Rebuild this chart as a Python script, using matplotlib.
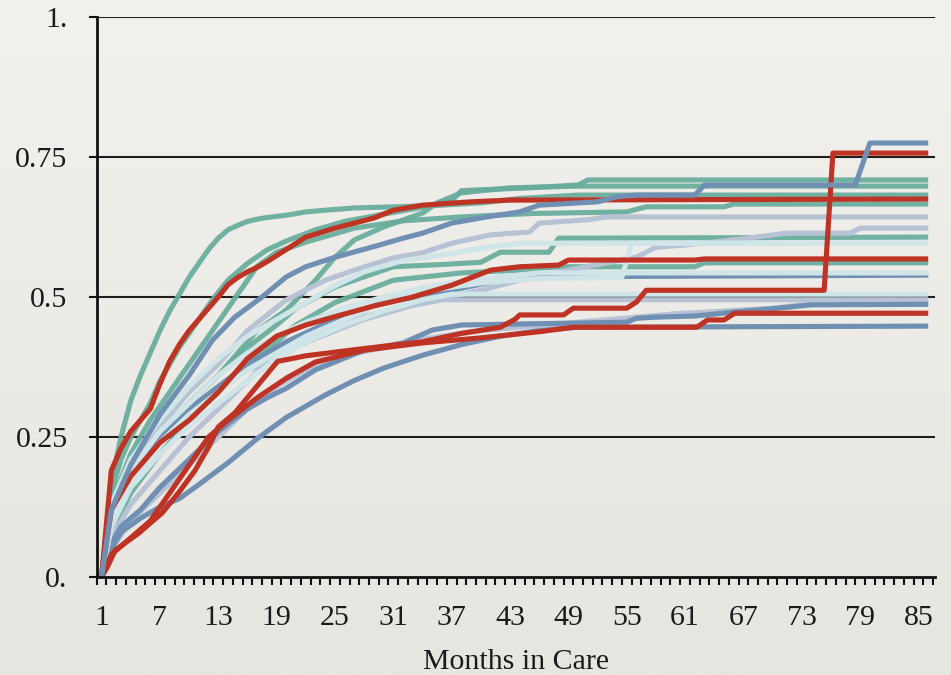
#!/usr/bin/env python3
"""Cumulative share leaving care by month, one line per cohort/group."""

import matplotlib
matplotlib.use('Agg')
import matplotlib.pyplot as plt
import numpy as np

TEAL = '#68ad9c'
RED = '#bf3324'
BLUE = '#7090b3'
LIGHT = '#b7c2d5'
PALE = '#d0e5e7'

# knots (month, cumulative share)
teal_1_m = [1, 2, 3, 4, 5, 6, 7, 8, 9, 10, 11, 12, 13, 14, 15, 16, 17, 18, 20, 22, 24, 27, 31, 36, 40, 44, 50, 86]
teal_1_v = [0, 0.17, 0.25, 0.315, 0.36, 0.40, 0.44, 0.475, 0.505, 0.535, 0.56, 0.585, 0.605, 0.62, 0.628,
            0.635, 0.639, 0.642, 0.646, 0.652, 0.655, 0.659, 0.661, 0.664, 0.668, 0.676, 0.682, 0.682]

teal_2_m = [1, 2, 3, 4, 5, 6, 7, 9, 11, 12.4, 14, 16, 18, 20, 23, 26, 30, 34, 37, 38, 45, 50, 51, 86]
teal_2_v = [0, 0.15, 0.21, 0.25, 0.28, 0.31, 0.35, 0.41, 0.46, 0.495, 0.53, 0.56, 0.584, 0.6, 0.62, 0.635,
            0.648, 0.66, 0.672, 0.69, 0.695, 0.7, 0.709, 0.709]

teal_3_m = [1, 2, 4, 7, 10, 13, 15, 17, 20, 23, 25, 27, 30, 34, 35.5, 38, 43, 50, 86]
teal_3_v = [0, 0.1, 0.17, 0.25, 0.31, 0.36, 0.4, 0.44, 0.477, 0.53, 0.571, 0.602, 0.625, 0.65, 0.668,
            0.686, 0.695, 0.698, 0.698]

teal_4_m = [1, 2, 4, 6, 8, 10, 12, 14, 16, 17, 19, 22, 27, 32, 38, 45, 55, 57, 65, 66, 86]
teal_4_v = [0, 0.13, 0.22, 0.28, 0.33, 0.38, 0.43, 0.48, 0.53, 0.555, 0.58, 0.598, 0.623, 0.636, 0.643,
            0.649, 0.652, 0.661, 0.661, 0.666, 0.666]

teal_5_m = [1, 2, 4, 7, 10, 13, 16, 19, 21, 25, 31, 36, 40, 42, 47, 48, 86]
teal_5_v = [0, 0.1, 0.18, 0.26, 0.31, 0.36, 0.41, 0.45, 0.48, 0.518, 0.554, 0.558, 0.562, 0.58, 0.58,
            0.605, 0.607]

teal_6_m = [1, 2, 4, 7, 10, 13, 16, 19, 21, 25, 31, 38, 44, 48, 62, 63, 86]
teal_6_v = [0, 0.08, 0.15, 0.22, 0.28, 0.33, 0.38, 0.42, 0.45, 0.49, 0.53, 0.543, 0.548, 0.554, 0.554,
            0.561, 0.561]

light_1_m = [1, 3, 5, 7, 10, 13, 16, 20, 24, 27, 31, 34, 37, 41, 45, 46, 51, 53, 86]
light_1_v = [0, 0.15, 0.22, 0.27, 0.33, 0.38, 0.44, 0.495, 0.53, 0.548, 0.57, 0.579, 0.596, 0.611, 0.616,
             0.632, 0.638, 0.643, 0.643]

light_2_m = [1, 2, 4, 7, 10, 13, 16, 19, 21.4, 28, 35, 40, 44, 49, 56, 58, 61, 66, 71.5, 78, 79, 86]
light_2_v = [0, 0.07, 0.13, 0.19, 0.25, 0.3, 0.35, 0.4, 0.425, 0.465, 0.495, 0.512, 0.53, 0.548, 0.571,
             0.589, 0.593, 0.602, 0.614, 0.614, 0.623, 0.623]

light_3_m = [1, 2, 4, 7, 10, 13, 16, 19, 21.4, 28, 33, 36, 86]
light_3_v = [0, 0.1, 0.18, 0.25, 0.3, 0.34, 0.37, 0.39, 0.415, 0.46, 0.485, 0.495, 0.495]

light_4_m = [1, 2, 4, 7, 10, 13, 16, 19, 22, 26, 30, 34, 40, 50, 60, 70, 74, 86]
light_4_v = [0, 0.05, 0.1, 0.15, 0.2, 0.25, 0.3, 0.34, 0.37, 0.395, 0.41, 0.425, 0.44, 0.455, 0.47,
             0.48, 0.488, 0.49]

blue_low_m = [1, 2, 3, 5, 7, 9, 11, 14, 17, 20, 24, 27, 30, 34, 38, 42, 46, 50, 86]
blue_low_v = [0, 0.05, 0.08, 0.105, 0.125, 0.14, 0.165, 0.204, 0.247, 0.285, 0.325, 0.351, 0.373, 0.396,
              0.415, 0.43, 0.44, 0.446, 0.448]

blue_mid_m = [1, 2, 3, 5, 7, 10, 13, 16, 18, 20, 23, 28, 32, 35, 38, 55, 56, 58, 62, 66, 70.5, 74, 86]
blue_mid_v = [0, 0.06, 0.09, 0.12, 0.16, 0.21, 0.26, 0.3, 0.32, 0.337, 0.37, 0.405, 0.418, 0.441, 0.45,
              0.455, 0.462, 0.464, 0.466, 0.473, 0.48, 0.486, 0.487]

blue_4_m = [1, 2, 4, 7, 10, 13, 16, 20, 25, 30, 35, 40, 44, 86]
blue_4_v = [0, 0.1, 0.17, 0.25, 0.3, 0.34, 0.38, 0.42, 0.46, 0.49, 0.505, 0.523, 0.536, 0.539]

pale_1_m = [1, 2, 4, 7, 10, 13, 16, 19, 22, 25, 28, 32, 36, 40.6, 44, 86]
pale_1_v = [0, 0.13, 0.21, 0.28, 0.34, 0.39, 0.43, 0.46, 0.49, 0.52, 0.545, 0.565, 0.575, 0.589, 0.596, 0.596]

pale_2_m = [1, 2, 4, 7, 10, 13, 16, 19, 22, 26, 30, 34, 40, 46, 54.5, 55.5, 86]
pale_2_v = [0, 0.1, 0.17, 0.24, 0.29, 0.33, 0.37, 0.4, 0.43, 0.46, 0.49, 0.51, 0.525, 0.533, 0.535,
            0.596, 0.596]

pale_3_m = [1, 2, 4, 7, 10, 13, 16, 19, 22, 26, 30, 34, 37, 86]
pale_3_v = [0, 0.09, 0.16, 0.22, 0.27, 0.31, 0.35, 0.39, 0.42, 0.45, 0.475, 0.495, 0.505, 0.505]

pale_4_m = [1, 2, 4, 7, 10, 13, 16, 19, 22, 26, 30, 35, 40, 46, 86]
pale_4_v = [0, 0.11, 0.19, 0.26, 0.31, 0.36, 0.4, 0.43, 0.455, 0.48, 0.5, 0.52, 0.532, 0.543, 0.543]

red_a_m = [1, 2, 3, 4, 5, 6, 7, 8, 9, 10, 11, 12, 13, 14, 15, 16, 17, 18, 20, 22, 25, 29, 31, 34, 39, 43, 86]
red_a_v = [0, 0.19, 0.23, 0.26, 0.28, 0.30, 0.345, 0.385, 0.415, 0.44, 0.46, 0.48, 0.5, 0.522, 0.535,
           0.545, 0.553, 0.563, 0.585, 0.607, 0.623, 0.641, 0.655, 0.664, 0.67, 0.673, 0.675]

red_mid_m = [1, 2, 4, 7, 10, 13, 16, 19, 22, 25, 29, 33, 37, 41, 44, 48, 49, 62, 63, 86]
red_mid_v = [0, 0.12, 0.18, 0.24, 0.28, 0.33, 0.39, 0.43, 0.45, 0.465, 0.484, 0.5, 0.521, 0.548, 0.554,
             0.557, 0.566, 0.566, 0.568, 0.568]

red_low_m = [1, 2, 4, 6, 8, 10, 12, 14, 17, 20, 23, 28, 34, 40, 46, 49.5, 62.2, 63.3, 65, 66.1, 86]
red_low_v = [0, 0.04, 0.07, 0.1, 0.15, 0.2, 0.25, 0.28, 0.32, 0.355, 0.384, 0.405, 0.418, 0.427, 0.438,
             0.446, 0.446, 0.459, 0.459, 0.471, 0.471]

red_jump_m = [1, 1.6, 2.4, 4.8, 7.2, 8.9, 10.6, 12, 13, 14.7, 16.8, 19.1, 22, 28, 34, 38, 42, 43.5, 44,
              48.5, 49.5, 55, 56, 57, 75.3, 76.2, 86]
red_jump_v = [0, 0.018, 0.048, 0.078, 0.114, 0.15, 0.19, 0.232, 0.268, 0.293, 0.337, 0.385, 0.395, 0.408,
              0.42, 0.435, 0.446, 0.46, 0.468, 0.468, 0.48, 0.48, 0.491, 0.512, 0.512, 0.757, 0.757]

blue_top_m = [1, 2, 4, 7, 10, 12.4, 14.7, 17.5, 20, 22, 25, 29, 32, 34, 37, 40.6, 44, 46, 52, 54, 56,
              62, 63, 78.5, 80, 86]
blue_top_v = [0, 0.12, 0.2, 0.29, 0.36, 0.423, 0.464, 0.5, 0.536, 0.554, 0.571, 0.59, 0.605, 0.614, 0.632,
              0.643, 0.652, 0.664, 0.67, 0.679, 0.682, 0.682, 0.70, 0.70, 0.775, 0.775]

# drawing order matters: later lines sit on top
SERIES = [
    (teal_1_m, teal_1_v, TEAL), (teal_2_m, teal_2_v, TEAL), (teal_3_m, teal_3_v, TEAL),
    (teal_4_m, teal_4_v, TEAL), (teal_5_m, teal_5_v, TEAL), (teal_6_m, teal_6_v, TEAL),
    (light_4_m, light_4_v, LIGHT), (light_3_m, light_3_v, LIGHT),
    (light_2_m, light_2_v, LIGHT), (light_1_m, light_1_v, LIGHT),
    (blue_low_m, blue_low_v, BLUE), (blue_mid_m, blue_mid_v, BLUE), (blue_4_m, blue_4_v, BLUE),
    (pale_1_m, pale_1_v, PALE), (pale_2_m, pale_2_v, PALE), (pale_3_m, pale_3_v, PALE),
    (pale_4_m, pale_4_v, PALE),
    (red_a_m, red_a_v, RED), (red_mid_m, red_mid_v, RED), (red_low_m, red_low_v, RED),
    (red_jump_m, red_jump_v, RED),
    (blue_top_m, blue_top_v, BLUE),
]

x_tick_months = list(range(1, 86, 6))
y_ticks = [0, 0.25, 0.5, 0.75, 1.0]
y_tick_labels = ['0.', '0.25', '0.5', '0.75', '1.']


def main():
    plt.rcParams['font.family'] = ['Liberation Serif', 'DejaVu Serif']
    fig = plt.figure(figsize=(9.51, 6.75), dpi=100)

    # paper-like backdrop, slightly darker towards the bottom
    bg = fig.add_axes([0, 0, 1, 1], zorder=-10)
    top = np.array([243, 241, 237]) / 255.0
    bottom = np.array([231, 229, 224]) / 255.0
    t = np.linspace(0, 1, 256)[:, None, None]
    bg.imshow(top + (bottom - top) * t, aspect='auto', extent=[0, 1, 0, 1])
    bg.axis('off')

    ax = fig.add_axes([0.1017, 0.1452, 0.8815, 0.8296])
    ax.patch.set_alpha(0)

    for yv in y_ticks[1:]:
        ax.axhline(yv, color='#1e1e1e', lw=1.5, zorder=1)

    for months, vals, color in SERIES:
        alpha = 0.93 if color == TEAL else 1.0
        ax.plot(months, vals, color=color, lw=3.7, alpha=alpha,
                solid_joinstyle='round', solid_capstyle='butt', zorder=3)

    ax.set_xlim(0.5, 86.7)
    ax.set_ylim(0, 1)

    for side in ('top', 'right'):
        ax.spines[side].set_visible(False)
    for side in ('left', 'bottom'):
        ax.spines[side].set_linewidth(2)
        ax.spines[side].set_color('#111111')
        ax.spines[side].set_zorder(4)

    ax.set_xticks(x_tick_months)
    ax.set_xticklabels([str(m) for m in x_tick_months])
    ax.set_xticks(np.arange(0.5, 87, 1.0), minor=True)
    ax.tick_params(axis='x', which='major', length=0, pad=20, labelsize=21.5, labelcolor='#1a1a1a')
    ax.tick_params(axis='x', which='minor', length=6, width=1.5, color='#111111', direction='out')

    ax.set_yticks(y_ticks)
    ax.set_yticklabels(y_tick_labels)
    ax.tick_params(axis='y', which='major', length=6, width=1.5, color='#111111',
                   pad=15, labelsize=21.5, labelcolor='#1a1a1a')

    ax.set_xlabel('Months in Care', fontsize=21.5, color='#1a1a1a')
    ax.xaxis.set_label_coords(0.5, -0.128)

    fig.savefig('out.png', dpi=100)
    plt.close(fig)


if __name__ == '__main__':
    main()
